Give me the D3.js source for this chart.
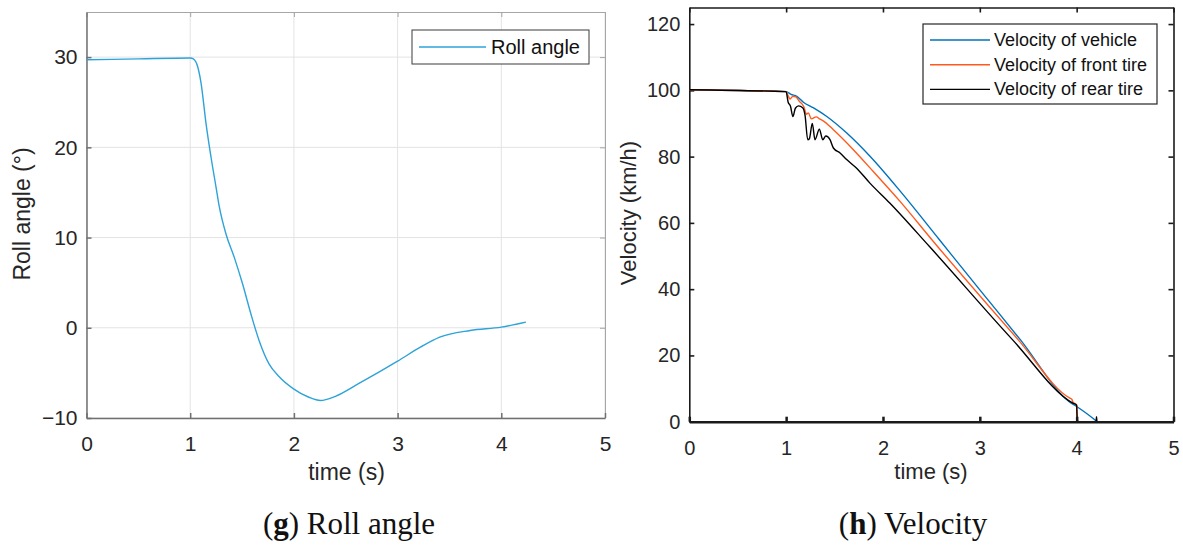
<!DOCTYPE html>
<html>
<head>
<meta charset="utf-8">
<script src="https://cdn.jsdelivr.net/npm/d3@7.9.0/dist/d3.min.js"></script>
<style>
  html, body { margin: 0; padding: 0; background: #fff; }
  svg { display: block; font-family: "Liberation Sans", Arial, sans-serif; }
</style>
</head>
<body>
<svg id="chart" width="1183" height="547"></svg>
<script>
/* ──── data: (g) roll angle ──── */
const rollTime  = [0, 0.5, 1.0, 1.03, 1.073, 1.105, 1.153, 1.201, 1.249, 1.281, 1.345, 1.425,
                   1.504, 1.585, 1.664, 1.76, 1.856, 2.0, 2.144, 2.256, 2.40, 2.623,
                   3.0, 3.22, 3.406, 3.70, 4.0, 4.237];
const rollAngle = [29.7, 29.8, 29.9, 29.8, 28.9, 27.1, 22.6, 18.9, 15.6, 13.4, 10.4, 7.8,
                   4.9, 1.55, -1.4, -4.0, -5.4, -6.8, -7.7, -8.06, -7.6, -6.2,
                   -3.7, -2.15, -1.04, -0.3, 0.07, 0.62];

/* ──── data: (h) velocity ──── */
const vehTime  = [0, 1.0, 1.05, 1.11, 1.178, 1.283, 1.42, 1.626, 1.866, 2.18, 2.583, 3.0,
                  3.42, 3.926, 4.0, 4.19, 4.21, 5];
const vehSpeed = [100.2, 99.6, 98.8, 98.2, 96.4, 94.7, 92.1, 87.1, 80.1, 69.5, 54.9, 39.8,
                  24.7, 6.0, 4.6, 0.5, 0, 0];

const frontTime  = [0, 1.0, 1.02, 1.04, 1.07, 1.1, 1.136, 1.183, 1.21, 1.229, 1.26, 1.31,
                    1.35, 1.383, 1.488, 1.694, 1.9, 2.176, 2.52, 3.397, 3.93, 3.95, 3.96,
                    4.0, 4.01, 5];
const frontSpeed = [100.2, 99.6, 98.4, 97.4, 98.2, 98.0, 96.7, 95.0, 92.8, 93.2, 91.4, 92.0,
                    91.3, 90.8, 88.1, 82.1, 75.5, 66.5, 54.4, 24.7, 7.1, 6.8, 6.0,
                    5.0, 0, 0];

const rearTime  = [0, 1.0, 1.02, 1.045, 1.07, 1.095, 1.128, 1.173, 1.195, 1.223, 1.24, 1.27,
                   1.298, 1.343, 1.378, 1.41, 1.453, 1.488, 1.557, 1.625, 1.728, 1.865,
                   2.07, 2.485, 3.339, 3.96, 4.0, 4.005, 4.02, 4.2, 4.205, 4.21, 5];
const rearSpeed = [100.2, 99.6, 96.5, 95.2, 92.1, 94.6, 95.3, 94.7, 92.5, 85.1, 85.4, 90.0,
                   85.1, 88.3, 85.1, 86.2, 85.1, 82.6, 81.1, 79.1, 76.5, 72.0,
                   66.0, 52.7, 24.7, 5.6, 5.0, 0.5, 0, 0, 1.5, 0, 0];

/* ──── tick labels / legend text ──── */
const timeTicks  = [0, 1, 2, 3, 4, 5];
const rollTicks  = [-10, 0, 10, 20, 30];
const speedTicks = [0, 20, 40, 60, 80, 100, 120];
const speedSeries = [
  { name: 'Velocity of vehicle',    t: vehTime,   v: vehSpeed,   color: '#0072bd' },
  { name: 'Velocity of front tire', t: frontTime, v: frontSpeed, color: '#ff5a1e' },
  { name: 'Velocity of rear tire',  t: rearTime,  v: rearSpeed,  color: '#000000' }
];

const svg = d3.select('#chart');
const zip = (t, v) => t.map((d, i) => [d, v[i]]);
const fmt = d3.format('d');

/* ════════ left panel: roll angle ════════ */
const xL = d3.scaleLinear().domain([0, 5]).range([86.5, 605]);
const yL = d3.scaleLinear().domain([-10, 35]).range([418, 12]);

const gL = svg.append('g');

// grid
gL.append('g')
  .selectAll('line')
  .data(timeTicks)
  .join('line')
  .attr('x1', d => xL(d)).attr('x2', d => xL(d))
  .attr('y1', yL(-10)).attr('y2', yL(35))
  .attr('stroke', '#e3e3e3').attr('stroke-width', 1);
gL.append('g')
  .selectAll('line')
  .data(rollTicks)
  .join('line')
  .attr('x1', xL(0)).attr('x2', xL(5))
  .attr('y1', d => yL(d)).attr('y2', d => yL(d))
  .attr('stroke', '#e3e3e3').attr('stroke-width', 1);

// axes (ticks inward, MATLAB style)
const styleAxis = (g, stroke, width, fontSize) => {
  g.selectAll('.domain').attr('stroke', stroke).attr('stroke-width', width);
  g.selectAll('.tick line').attr('stroke', stroke).attr('stroke-width', width);
  g.selectAll('.tick text')
   .attr('fill', '#262626')
   .style('font-family', '"Liberation Sans", Arial, sans-serif')
   .style('font-size', fontSize + 'px');
};

gL.append('g')
  .attr('transform', `translate(0,${yL(35)})`)
  .call(d3.axisTop(xL).tickValues(timeTicks).tickFormat('').tickSize(-5).tickSizeOuter(0))
  .call(g => styleAxis(g, '#a6a6a6', 1, 20));
gL.append('g')
  .attr('transform', `translate(${xL(5)},0)`)
  .call(d3.axisRight(yL).tickValues(rollTicks).tickFormat('').tickSize(-5).tickSizeOuter(0))
  .call(g => styleAxis(g, '#a6a6a6', 1, 20));
gL.append('g')
  .attr('transform', `translate(0,${yL(-10)})`)
  .call(d3.axisBottom(xL).tickValues(timeTicks).tickFormat(fmt).tickSize(-5).tickSizeOuter(0).tickPadding(18))
  .call(g => styleAxis(g, '#707070', 1.5, 21));
gL.append('g')
  .attr('transform', `translate(${xL(0)},0)`)
  .call(d3.axisLeft(yL).tickValues(rollTicks).tickFormat(fmt).tickSize(-5).tickSizeOuter(0).tickPadding(9))
  .call(g => styleAxis(g, '#707070', 1.5, 21));

// roll angle curve
gL.append('path')
  .datum(zip(rollTime, rollAngle))
  .attr('fill', 'none')
  .attr('stroke', '#2ea3d9')
  .attr('stroke-width', 1.4)
  .attr('d', d3.line().x(d => xL(d[0])).y(d => yL(d[1])).curve(d3.curveMonotoneX));

// legend
const legL = gL.append('g');
legL.append('rect')
  .attr('x', 412).attr('y', 30).attr('width', 177).attr('height', 34)
  .attr('fill', '#fff').attr('stroke', '#3a3a3a').attr('stroke-width', 1);
legL.append('line')
  .attr('x1', 419).attr('x2', 486).attr('y1', 47).attr('y2', 47)
  .attr('stroke', '#2ea3d9').attr('stroke-width', 1.4);
legL.append('text')
  .attr('x', 491).attr('y', 47).attr('dominant-baseline', 'central')
  .attr('fill', '#111').style('font-size', '20px')
  .text('Roll angle');

// axis titles
gL.append('text')
  .attr('x', 346.5).attr('y', 472)
  .attr('text-anchor', 'middle').attr('dominant-baseline', 'central')
  .attr('fill', '#262626').style('font-size', '23px')
  .text('time (s)');
gL.append('text')
  .attr('transform', 'translate(22,214) rotate(-90)')
  .attr('text-anchor', 'middle').attr('dominant-baseline', 'central')
  .attr('fill', '#262626').style('font-size', '23px')
  .text('Roll angle (°)');

/* ════════ right panel: velocity ════════ */
const xR = d3.scaleLinear().domain([0, 5]).range([689.3, 1173.5]);
const yR = d3.scaleLinear().domain([0, 125]).range([421.7, 7.5]);

const gR = svg.append('g');

gR.append('g')
  .attr('transform', `translate(0,${yR(125)})`)
  .call(d3.axisTop(xR).tickValues(timeTicks).tickFormat('').tickSize(-5).tickSizeOuter(0))
  .call(g => styleAxis(g, '#1a1a1a', 1.6, 20));
gR.append('g')
  .attr('transform', `translate(${xR(5)},0)`)
  .call(d3.axisRight(yR).tickValues(speedTicks).tickFormat('').tickSize(-5).tickSizeOuter(0))
  .call(g => styleAxis(g, '#1a1a1a', 1.6, 20));
gR.append('g')
  .attr('transform', `translate(${xR(0)},0)`)
  .call(d3.axisLeft(yR).tickValues(speedTicks).tickFormat(fmt).tickSize(-5).tickSizeOuter(0).tickPadding(9))
  .call(g => styleAxis(g, '#1a1a1a', 1.6, 20));

// speed lines
const lineR = d3.line().x(d => xR(d[0])).y(d => yR(d[1])).curve(d3.curveMonotoneX);
gR.append('g')
  .selectAll('path')
  .data(speedSeries)
  .join('path')
  .attr('fill', 'none')
  .attr('stroke', d => d.color)
  .attr('stroke-width', 1.4)
  .attr('d', d => lineR(zip(d.t, d.v)));

gR.append('g')
  .attr('transform', `translate(0,${yR(0)})`)
  .call(d3.axisBottom(xR).tickValues(timeTicks).tickFormat(fmt).tickSize(-5).tickSizeOuter(0).tickPadding(19))
  .call(g => styleAxis(g, '#1a1a1a', 2.5, 20));

// legend
const legR = gR.append('g');
legR.append('rect')
  .attr('x', 923).attr('y', 24).attr('width', 234).attr('height', 80)
  .attr('fill', '#fff').attr('stroke', '#262626').attr('stroke-width', 1.2);
const legRow = legR.selectAll('g')
  .data(speedSeries)
  .join('g')
  .attr('transform', (d, i) => `translate(0,${40 + i * 24.7})`);
legRow.append('line')
  .attr('x1', 930).attr('x2', 990)
  .attr('stroke', d => d.color).attr('stroke-width', 1.4);
legRow.append('text')
  .attr('x', 994).attr('dominant-baseline', 'central')
  .attr('fill', '#111').style('font-size', '18px')
  .text(d => d.name);

// axis titles
gR.append('text')
  .attr('x', 931).attr('y', 471)
  .attr('text-anchor', 'middle').attr('dominant-baseline', 'central')
  .attr('fill', '#262626').style('font-size', '22px')
  .text('time (s)');
gR.append('text')
  .attr('transform', 'translate(628,213) rotate(-90)')
  .attr('text-anchor', 'middle').attr('dominant-baseline', 'central')
  .attr('fill', '#262626').style('font-size', '22px')
  .text('Velocity (km/h)');

/* ──── captions ──── */
const captions = [
  { x: 349, letter: 'g', label: ' Roll angle' },
  { x: 913, letter: 'h', label: ' Velocity' }
];
const cap = svg.selectAll('text.caption')
  .data(captions)
  .join('text')
  .attr('class', 'caption')
  .attr('x', d => d.x).attr('y', 523)
  .attr('text-anchor', 'middle').attr('dominant-baseline', 'central')
  .attr('fill', '#111')
  .style('font-family', '"Liberation Serif", "Times New Roman", serif')
  .style('font-size', '31px');
cap.append('tspan').text('(');
cap.append('tspan').attr('font-weight', 'bold').text(d => d.letter);
cap.append('tspan').text(d => ')' + d.label);
</script>
</body>
</html>
